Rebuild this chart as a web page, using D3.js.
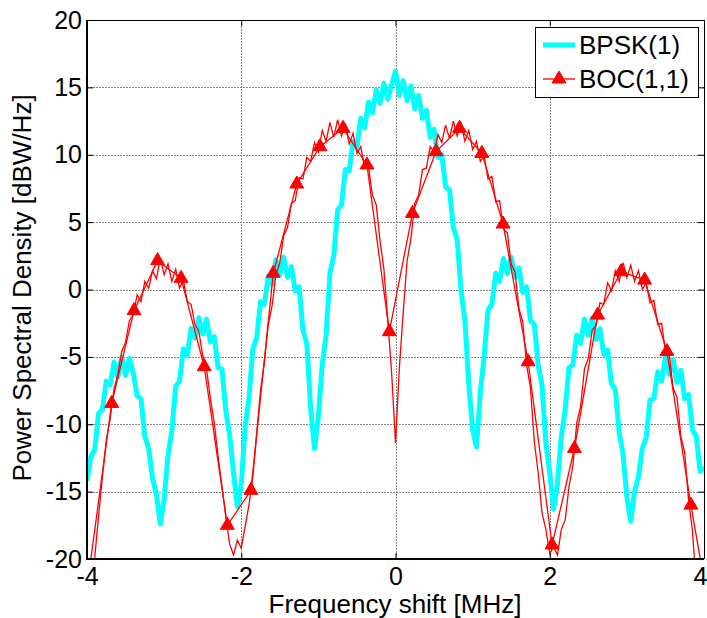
<!DOCTYPE html>
<html>
<head>
<meta charset="utf-8">
<script src="https://cdn.jsdelivr.net/npm/d3@7"></script>
<style>
  body { margin: 0; background: #fff; }
  svg text { font-family: Arial, "Liberation Sans", sans-serif; fill: #000; }
</style>
</head>
<body>
<script>
// frequency grid of both spectra [MHz]
const freq = [
  -4, -3.95, -3.9, -3.85, -3.8, -3.75, -3.7, -3.65, -3.6, -3.55,
  -3.5, -3.45, -3.4, -3.35, -3.3, -3.25, -3.2, -3.15, -3.1, -3.05,
  -3, -2.95, -2.9, -2.85, -2.8, -2.75, -2.7, -2.65, -2.6, -2.55,
  -2.5, -2.45, -2.4, -2.35, -2.3, -2.25, -2.2, -2.15, -2.1, -2.05,
  -2, -1.95, -1.9, -1.85, -1.8, -1.75, -1.7, -1.65, -1.6, -1.55,
  -1.5, -1.45, -1.4, -1.35, -1.3, -1.25, -1.2, -1.15, -1.1, -1.05,
  -1, -0.95, -0.9, -0.85, -0.8, -0.75, -0.7, -0.65, -0.6, -0.55,
  -0.5, -0.45, -0.4, -0.35, -0.3, -0.25, -0.2, -0.15, -0.1, -0.05,
  0,
  0.05, 0.1, 0.15, 0.2, 0.25, 0.3, 0.35, 0.4, 0.45, 0.5,
  0.55, 0.6, 0.65, 0.7, 0.75, 0.8, 0.85, 0.9, 0.95, 1,
  1.05, 1.1, 1.15, 1.2, 1.25, 1.3, 1.35, 1.4, 1.45, 1.5,
  1.55, 1.6, 1.65, 1.7, 1.75, 1.8, 1.85, 1.9, 1.95, 2,
  2.05, 2.1, 2.15, 2.2, 2.25, 2.3, 2.35, 2.4, 2.45, 2.5,
  2.55, 2.6, 2.65, 2.7, 2.75, 2.8, 2.85, 2.9, 2.95, 3,
  3.05, 3.1, 3.15, 3.2, 3.25, 3.3, 3.35, 3.4, 3.45, 3.5,
  3.55, 3.6, 3.65, 3.7, 3.75, 3.8, 3.85, 3.9, 3.95, 4
]

// BPSK(1) PSD [dBW/Hz]
const bpsk = [
  -14.2, -12.4, -11.9, -9.2, -8.9, -6.8, -7.1, -5.4, -6.5, -5.0,
  -6.4, -5.1, -6.2, -7.9, -8.1, -10.9, -11.8, -14.0, -15.2, -17.4,
  -15.6, -12.3, -10.5, -7.2, -6.8, -4.4, -4.9, -2.9, -3.6, -2.1,
  -3.3, -2.2, -3.9, -3.5, -5.8, -5.9, -9.0, -10.8, -13.6, -16.1,
  -14.5, -10.2, -8.1, -4.4, -3.6, -0.9, -1.1, 1.0, 0.4, 2.2,
  1.1, 2.4, 0.9, 1.7, -0.1, 0.2, -3.0, -4.0, -8.8, -11.8,
  -9.4, -5.6, -3.4, 1.2, 2.5, 5.9, 6.3, 8.9, 8.8, 11.0,
  10.6, 12.7, 12.0, 13.9, 13.1, 14.8, 13.8, 15.3, 14.1, 15.2,
  16.2,
  14.4, 15.5, 14.0, 15.1, 13.4, 14.4, 12.7, 13.3, 11.3, 11.9,
  9.8, 10.0, 7.6, 7.4, 4.6, 3.7, -0.1, -2.3, -7.0, -10.4,
  -11.7, -7.6, -4.9, -1.5, -1.1, 1.2, 0.6, 2.3, 1.2, 2.4,
  0.9, 1.6, -0.2, 0.2, -2.3, -2.6, -5.6, -7.1, -11.4, -13.6,
  -16.3, -14.4, -10.9, -8.9, -5.8, -5.6, -3.4, -4.0, -2.2, -3.4,
  -2.1, -3.7, -2.9, -4.8, -4.5, -7.0, -7.4, -10.6, -12.2, -15.4,
  -17.2, -15.0, -13.9, -11.8, -11.0, -8.2, -8.1, -6.1, -6.8, -5.0,
  -6.3, -5.2, -6.9, -6.0, -8.1, -7.8, -10.4, -10.9, -13.5, -13.2
]

// BOC(1,1) PSD [dBW/Hz]
const boc = [
  -30, -24.5, -19.9, -16.8, -13.9, -11.2, -9.6, -7.4, -6.3, -4.6,
  -3.9, -2.3, -1.9, -0.4, -0.9, 0.6, 0.1, 1.4, 0.8, 2.3,
  1.1, 1.9, 0.6, 1.5, 0.1, 0.7, -0.9, -1.1, -2.6, -3.1,
  -4.9, -5.9, -8.1, -9.9, -12.4, -14.6, -16.9, -18.9, -19.7, -18.6,
  -19.2, -17.6, -16.0, -13.9, -10.7, -7.5, -5.4, -2.6, -1.2, 1.1,
  2.0, 4.0, 4.6, 6.4, 6.6, 8.3, 8.2, 9.8, 9.5, 10.9,
  10.2, 11.8, 11.0, 12.4, 11.3, 12.6, 11.4, 12.3, 10.8, 11.6,
  10.1, 10.6, 9.0, 9.1, 7.0, 6.3, 3.6, 1.5, -2.3, -6.2,
  -11.4,
  -5.8, -1.7, 2.1, 3.8, 6.4, 7.0, 8.9, 9.0, 10.6, 10.2,
  11.5, 10.9, 12.2, 11.2, 12.5, 11.4, 12.3, 11.0, 11.8, 10.4,
  11.0, 9.5, 9.9, 8.2, 8.4, 6.5, 6.6, 4.5, 4.2, 1.9,
  1.3, -1.4, -2.4, -5.6, -7.3, -11.3, -13.6, -16.6, -17.8, -19.6,
  -19.1, -19.7, -17.8, -17.1, -14.6, -13.1, -9.9, -8.7, -5.9, -5.1,
  -3.0, -2.7, -1.0, -1.1, 0.5, -0.1, 1.4, 0.6, 2.0, 0.9,
  1.8, 0.6, 1.4, 0.0, 0.5, -1.0, -0.8, -2.6, -2.5, -4.6,
  -4.9, -7.3, -8.0, -10.9, -12.1, -15.6, -17.9, -22.0, -27, -33
]

// BOC(1,1) marker trace
const markerFreq = [-3.985, -3.68, -3.39, -3.085, -2.78, -2.48, -2.18, -1.874, -1.585, -1.28, -0.98, -0.68, -0.37, -0.08,
  0.22, 0.525, 0.83, 1.12, 1.395, 1.72, 2.03, 2.32, 2.62, 2.925, 3.23, 3.52, 3.83, 4.135]
const markerBoc = [-21.5, -8.45, -1.57, 2.14, 0.83, -5.73, -17.5, -14.9, 1.2, 7.83, 10.6, 11.96, 9.24, -3.13,
  5.65, 10.23, 11.96, 10.1, 4.86, -5.36, -18.96, -11.8, -1.9, 1.32, 0.7, -4.6, -16.0, -26]

const xTicks = [-4, -2, 0, 2, 4]
const yTicks = [-20, -15, -10, -5, 0, 5, 10, 15, 20]
const seriesNames = ['BPSK(1)', 'BOC(1,1)']

const fontSize = 26
const tickFontSize = 25
const plot = {left: 87, right: 704, top: 20, bottom: 559}

const svg = d3.select('body').append('svg')
  .attr('width', 707)
  .attr('height', 618)

const x = d3.scaleLinear().domain([-4, 4]).range([plot.left, plot.right])
const y = d3.scaleLinear().domain([-20, 20]).range([plot.bottom, plot.top])

svg.append('clipPath').attr('id', 'clip')
  .append('rect')
  .attr('x', plot.left).attr('y', plot.top)
  .attr('width', plot.right - plot.left).attr('height', plot.bottom - plot.top)

// grid
const grid = svg.append('g').attr('stroke', '#858585').attr('stroke-width', 1).attr('stroke-dasharray', '2,1')
grid.selectAll('line.v').data(xTicks.slice(1, -1)).enter().append('line')
  .attr('x1', d => Math.round(x(d)) + 0.5).attr('x2', d => Math.round(x(d)) + 0.5)
  .attr('y1', plot.top).attr('y2', plot.bottom)
grid.selectAll('line.h').data(yTicks.slice(1, -1)).enter().append('line')
  .attr('y1', d => Math.round(y(d)) + 0.5).attr('y2', d => Math.round(y(d)) + 0.5)
  .attr('x1', plot.left).attr('x2', plot.right)

const line = d3.line().x(d => x(d[0])).y(d => y(d[1]))
const plotArea = svg.append('g').attr('clip-path', 'url(#clip)')

// BPSK(1)
plotArea.append('path')
  .datum(freq.map((f, i) => [f, bpsk[i]]))
  .attr('d', line)
  .attr('fill', 'none')
  .attr('stroke', '#00ffff')
  .attr('stroke-width', 5)
  .attr('stroke-linejoin', 'round')

// BOC(1,1) dense trace
plotArea.append('path')
  .datum(freq.map((f, i) => [f, boc[i]]))
  .attr('d', line)
  .attr('fill', 'none')
  .attr('stroke', '#ff0000')
  .attr('stroke-width', 1.3)

// BOC(1,1) marker trace
const markers = markerFreq.map((f, i) => [f, markerBoc[i]])
plotArea.append('path')
  .datum(markers)
  .attr('d', line)
  .attr('fill', 'none')
  .attr('stroke', '#ff0000')
  .attr('stroke-width', 1.3)

const triangle = d3.symbol().type(d3.symbolTriangle).size(84)
plotArea.selectAll('path.marker')
  .data(markers.filter(d => d[0] >= -4 && d[0] <= 4 && d[1] >= -20 && d[1] <= 20))
  .enter().append('path')
  .attr('class', 'marker')
  .attr('d', triangle)
  .attr('transform', d => `translate(${x(d[0])},${y(d[1])})`)
  .attr('fill', '#ff0000')
  .attr('stroke', '#ff0000')

// axes (ticks inward, MATLAB style)
function styleAxis(g) {
  g.select('.domain').remove()
  g.selectAll('line').attr('stroke', '#000')
  g.selectAll('text').attr('font-size', tickFontSize).attr('font-family', 'Arial, "Liberation Sans", sans-serif')
}
const fmt = d => String(d)

const xAxis = svg.append('g')
  .attr('transform', `translate(0,${plot.bottom})`)
  .call(d3.axisBottom(x).tickValues(xTicks).tickSizeInner(-6).tickSizeOuter(0).tickPadding(8).tickFormat(fmt))
  .call(styleAxis)
// last label sits against the window edge
xAxis.selectAll('.tick text').filter(d => d === 4).attr('text-anchor', 'end').attr('x', 3)

svg.append('g')
  .attr('transform', `translate(0,${plot.top})`)
  .call(d3.axisTop(x).tickValues(xTicks).tickSizeInner(-6).tickSizeOuter(0).tickFormat(''))
  .call(styleAxis)
svg.append('g')
  .attr('transform', `translate(${plot.left},0)`)
  .call(d3.axisLeft(y).tickValues(yTicks).tickSizeInner(-6).tickSizeOuter(0).tickPadding(5).tickFormat(fmt))
  .call(styleAxis)
svg.append('g')
  .attr('transform', `translate(${plot.right},0)`)
  .call(d3.axisRight(y).tickValues(yTicks).tickSizeInner(-6).tickSizeOuter(0).tickFormat(''))
  .call(styleAxis)

// axes box
svg.append('line').attr('x1', plot.left).attr('x2', plot.left).attr('y1', plot.top).attr('y2', plot.bottom + 1)
  .attr('stroke', '#000').attr('stroke-width', 2)
svg.append('line').attr('x1', plot.left - 1).attr('x2', plot.right).attr('y1', plot.bottom).attr('y2', plot.bottom)
  .attr('stroke', '#000').attr('stroke-width', 2)
svg.append('line').attr('x1', plot.left).attr('x2', plot.right).attr('y1', plot.top + 0.5).attr('y2', plot.top + 0.5)
  .attr('stroke', '#000').attr('stroke-width', 1)
svg.append('line').attr('x1', plot.right + 0.5).attr('x2', plot.right + 0.5).attr('y1', plot.top).attr('y2', plot.bottom)
  .attr('stroke', '#000').attr('stroke-width', 1)

// axis labels
svg.append('text')
  .attr('x', 395)
  .attr('y', 613)
  .attr('text-anchor', 'middle')
  .attr('font-size', fontSize)
  .text('Frequency shift [MHz]')
svg.append('text')
  .attr('transform', 'translate(31,288) rotate(-90)')
  .attr('text-anchor', 'middle')
  .attr('font-size', fontSize)
  .text('Power Spectral Density [dBW/Hz]')

// legend
const legend = svg.append('g')
legend.append('rect')
  .attr('x', 535.5).attr('y', 27.5).attr('width', 163).attr('height', 70)
  .attr('fill', '#fff').attr('stroke', '#000').attr('stroke-width', 1)
const rows = [45, 79]
legend.append('line')
  .attr('x1', 543).attr('x2', 575).attr('y1', rows[0]).attr('y2', rows[0])
  .attr('stroke', '#00ffff').attr('stroke-width', 5)
legend.append('line')
  .attr('x1', 543).attr('x2', 575).attr('y1', rows[1]).attr('y2', rows[1])
  .attr('stroke', '#ff0000').attr('stroke-width', 1.3)
legend.append('path')
  .attr('d', triangle)
  .attr('transform', `translate(559,${rows[1]})`)
  .attr('fill', '#ff0000').attr('stroke', '#ff0000')
legend.selectAll('text.item').data(seriesNames).enter().append('text')
  .attr('x', 579)
  .attr('y', (d, i) => rows[i] + 9)
  .attr('font-size', fontSize)
  .text(d => d)
</script>
</body>
</html>
